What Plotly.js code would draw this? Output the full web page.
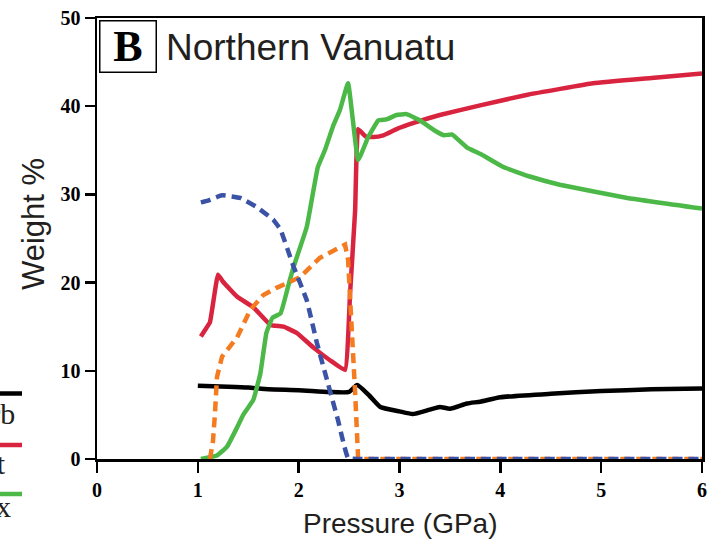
<!DOCTYPE html>
<html>
<head>
<meta charset="utf-8">
<script src="https://cdn.plot.ly/plotly-3.0.1.min.js"></script>
<style>html,body{margin:0;padding:0;background:#fff;}#chart{width:712px;height:542px;}</style>
</head>
<body>
<div id="chart"></div>
<script>
// Pressure (GPa) and Weight % for each phase
var carbP = [1.0, 1.3, 1.5, 1.7, 2.0, 2.3, 2.5, 2.58, 2.7, 2.81, 3.0, 3.13, 3.3, 3.4, 3.5, 3.67, 3.8, 4.0, 4.5, 5.0, 5.5, 6.0];
var carbW = [8.3, 8.2, 8.1, 7.9, 7.8, 7.6, 7.6, 8.4, 7.2, 5.9, 5.4, 5.1, 5.6, 5.9, 5.7, 6.3, 6.5, 7.0, 7.4, 7.7, 7.9, 8.0];

var grtP = [1.03, 1.07, 1.12, 1.2, 1.25, 1.39, 1.55, 1.72, 1.85, 1.98, 2.15, 2.31, 2.46, 2.51, 2.56, 2.59, 2.66, 2.74, 2.84, 2.97, 3.14, 3.4, 3.8, 4.27, 4.92, 5.5, 6.0];
var grtW = [13.9, 14.6, 15.5, 20.9, 20.1, 18.4, 17.2, 15.2, 15.0, 14.3, 12.6, 11.2, 10.1, 18.8, 28.2, 37.4, 36.6, 36.5, 36.7, 37.4, 38.1, 39.0, 40.1, 41.3, 42.6, 43.2, 43.7];

var cpxP = [1.03, 1.19, 1.29, 1.39, 1.45, 1.55, 1.62, 1.68, 1.74, 1.82, 1.91, 1.95, 2.08, 2.19, 2.26, 2.34, 2.41, 2.49, 2.59, 2.69, 2.79, 2.87, 2.97, 3.07, 3.2, 3.34, 3.44, 3.52, 3.67, 3.8, 4.03, 4.3, 4.59, 5.26, 6.0];
var cpxW = [0, 0.4, 1.4, 3.6, 5.0, 6.7, 9.7, 14.3, 16.0, 16.5, 20.2, 21.8, 26.3, 33.1, 35.0, 37.7, 39.6, 42.6, 33.9, 36.5, 38.4, 38.5, 39.0, 39.1, 38.4, 37.3, 36.7, 36.8, 35.3, 34.6, 33.1, 32.0, 31.1, 29.6, 28.4];

var amphP = [1.03, 1.1, 1.24, 1.42, 1.58, 1.75, 1.82, 1.91, 1.95, 2.08, 2.18, 2.28, 2.39, 2.49, 2.6, 3.0, 4.0, 5.0, 6.0];
var amphW = [29.1, 29.3, 29.9, 29.6, 28.6, 27.1, 26.0, 23.1, 21.8, 18.0, 13.2, 9.0, 4.4, 0.1, 0, 0, 0, 0, 0];

var lawP = [1.12, 1.15, 1.17, 1.19, 1.24, 1.39, 1.52, 1.65, 1.78, 1.91, 2.01, 2.21, 2.46, 2.49, 2.53, 2.56, 2.59, 3.0, 4.0, 5.0, 6.0];
var lawW = [0, 2.0, 5.2, 9.3, 11.6, 13.8, 16.9, 18.6, 19.4, 20.1, 20.6, 22.8, 24.3, 22.6, 15.0, 7.5, 0, 0, 0, 0, 0];

var xTicks = [0, 1, 2, 3, 4, 5, 6];
var yTicks = [0, 10, 20, 30, 40, 50];
var legendNames = ["Carb", "Grt", "Cpx"];
var legendColors = ["#000000", "#d9243f", "#4cb848"];

var C = {carb: "#000000", grt: "#d9243f", cpx: "#4cb848", amph: "#3b53a6", law: "#f47b20"};
var LW = 4.5;

var traces = [
  {x: carbP, y: carbW, name: "Carb", mode: "lines", line: {color: C.carb, width: LW, shape: "spline", smoothing: 0.5}},
  {x: grtP, y: grtW, name: "Grt", mode: "lines", line: {color: C.grt, width: LW, shape: "spline", smoothing: 0.3}},
  {x: cpxP, y: cpxW, name: "Cpx", mode: "lines", line: {color: C.cpx, width: LW, shape: "spline", smoothing: 0.3}},
  {x: lawP, y: lawW, name: "Law", mode: "lines", line: {color: C.law, width: LW, dash: "10px,6px"}},
  {x: amphP, y: amphW, name: "Amph", mode: "lines", line: {color: C.amph, width: LW, dash: "10px,6px", shape: "spline", smoothing: 0.3}}
];

var W = 605, H = 441;
function px2x(p){ return (p - 97) / W; }
function py2y(p){ return (459 - p) / H; }

var tickFont = {family: "Liberation Serif", size: 20, weight: "bold", color: "#000"};
var textColor = "#231f20";

var shapes = [];
var annotations = [];
var legendLineY = [393.5, 445, 494];
var legendTextY = [413, 463, 506];
var legendTextRight = [17, 8, 13];
for (var i = 0; i < legendNames.length; i++) {
  shapes.push({type: "line", xref: "paper", yref: "paper",
    x0: px2x(-5), x1: px2x(22), y0: py2y(legendLineY[i]), y1: py2y(legendLineY[i]),
    line: {color: legendColors[i], width: 4.5}});
  annotations.push({xref: "paper", yref: "paper", x: px2x(legendTextRight[i]), y: py2y(legendTextY[i]),
    xanchor: "right", yanchor: "middle", showarrow: false, text: legendNames[i],
    font: {family: "Liberation Serif", size: 30, color: textColor}});
}

annotations.push({xref: "paper", yref: "paper", x: px2x(98.5), y: py2y(19.5),
  xanchor: "left", yanchor: "top", showarrow: false, text: "B",
  width: 55, height: 50, borderpad: 0, bordercolor: "#000", borderwidth: 1.5, bgcolor: "#fff",
  font: {family: "Liberation Serif", size: 44, weight: "bold", color: "#000"}});
annotations.push({xref: "paper", yref: "paper", x: px2x(164), y: py2y(48),
  xanchor: "left", yanchor: "middle", showarrow: false, text: "Northern Vanuatu",
  font: {family: "Liberation Sans", size: 37, color: textColor}});
annotations.push({xref: "paper", yref: "paper", x: px2x(33), y: py2y(224),
  xanchor: "center", yanchor: "middle", showarrow: false, text: "Weight %", textangle: -90,
  font: {family: "Liberation Sans", size: 31, color: textColor}});
annotations.push({xref: "paper", yref: "paper", x: px2x(400), y: py2y(523),
  xanchor: "center", yanchor: "middle", showarrow: false, text: "Pressure (GPa)",
  font: {family: "Liberation Sans", size: 28, color: textColor}});

var layout = {
  width: 712, height: 542,
  margin: {l: 97, r: 10, t: 18, b: 83, pad: 0},
  paper_bgcolor: "#fff", plot_bgcolor: "#fff",
  showlegend: false,
  xaxis: {range: [0, 6], tickvals: xTicks, ticktext: xTicks.map(String),
    showgrid: false, zeroline: false, showline: true, mirror: true,
    linecolor: "#000", linewidth: 2.5, ticks: "outside", ticklen: 11, tickwidth: 2.5, tickcolor: "#000",
    tickfont: tickFont, fixedrange: true},
  yaxis: {range: [0, 50], tickvals: yTicks, ticktext: yTicks.map(String),
    showgrid: false, zeroline: false, showline: true, mirror: true,
    linecolor: "#000", linewidth: 2.5, ticks: "outside", ticklen: 10, tickwidth: 2.5, tickcolor: "#000",
    tickfont: tickFont, fixedrange: true},
  shapes: shapes,
  annotations: annotations
};

Plotly.newPlot("chart", traces, layout, {displayModeBar: false, staticPlot: true});
</script>
</body>
</html>
